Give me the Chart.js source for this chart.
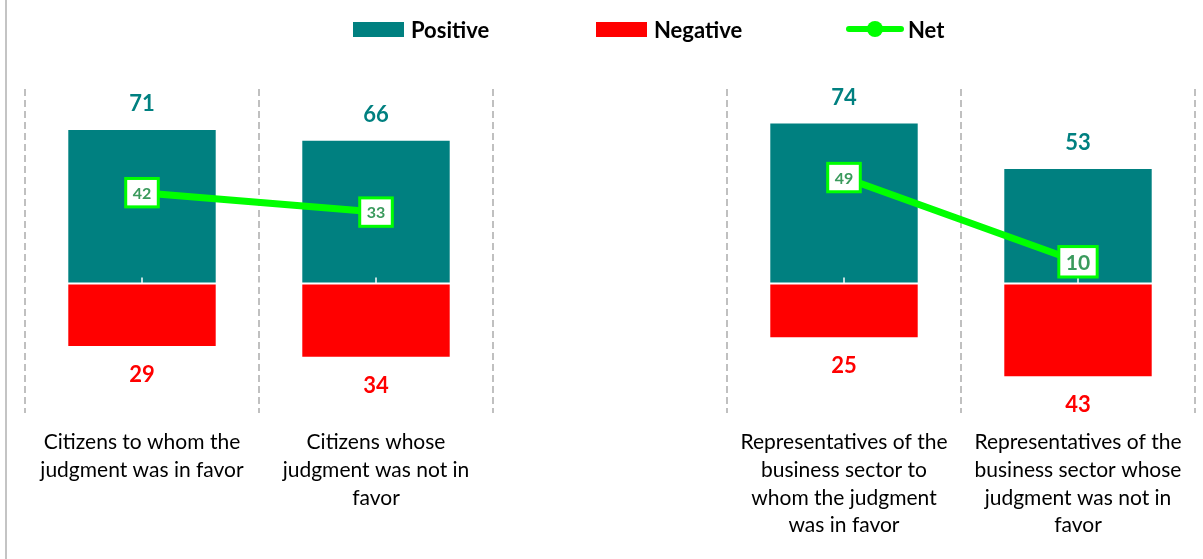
<!DOCTYPE html>
<html>
<head>
<meta charset="utf-8">
<script src="https://cdn.jsdelivr.net/npm/chart.js@4.4.0/dist/chart.umd.min.js"></script>
<style>
  html, body { margin: 0; padding: 0; background: #fff; }
  #wrap { position: relative; width: 1203px; height: 559px; overflow: hidden; }
  #wrap::before { content: ""; position: absolute; left: 5px; top: 0; bottom: 0; width: 2px; background: #c4c4c4; }
  canvas { position: absolute; left: 0; top: 0; }
  .item { position: absolute; top: 16px; height: 26px; display: flex; align-items: center;
          font: bold 22px Lato, sans-serif; color: #000; }
  .box { width: 51px; height: 15px; margin-right: 7px; }
  .netkey { position: relative; width: 58px; height: 16px; margin-right: 4px; }
  .netkey .ln { position: absolute; left: 0; right: 0; top: 5px; height: 6px; background: #00ff00; border-radius: 3px; }
  .netkey .dot { position: absolute; left: 21px; top: 0; width: 16px; height: 16px; border-radius: 50%; background: #00ff00; }
</style>
</head>
<body>
<div id="wrap">
  <canvas id="chart" width="1203" height="559"></canvas>
  <div class="item" style="left:353px"><span class="box" style="background:#008080"></span>Positive</div>
  <div class="item" style="left:596px"><span class="box" style="background:#ff0000"></span>Negative</div>
  <div class="item" style="left:846px"><span class="netkey"><span class="ln"></span><span class="dot"></span></span>Net</div>
</div>
<script>
// Datos del gráfico (la categoría vacía separa los dos grupos)
const categories = [
  ["Citizens to whom the", "judgment was in favor"],
  ["Citizens whose", "judgment was not in", "favor"],
  "",
  ["Representatives of the", "business sector to", "whom the judgment", "was in favor"],
  ["Representatives of the", "business sector whose", "judgment was not in", "favor"]
];
const positive = [71, 66, null, 74, 53];
const negative = [-29, -34, null, -25, -43];
const net = [42, 33, null, 49, 10];

const COLORS = {
  positive: "#008080",
  negative: "#ff0000",
  net: "#00ff00",
  netText: "#3a9a5c",
  grid: "#c0c0c0"
};

// Línea blanca en cero, etiquetas de valores y cajas del neto
const valueLabels = {
  id: "valueLabels",
  beforeDatasetDraw(chart, args) {
    if (args.index !== 2) return;
    const { ctx, chartArea, scales } = chart;
    const y0 = scales.y.getPixelForValue(0);
    ctx.save();
    ctx.strokeStyle = "#ffffff";
    ctx.lineWidth = 2;
    ctx.beginPath();
    ctx.moveTo(chartArea.left, y0);
    ctx.lineTo(chartArea.right, y0);
    ctx.stroke();
    ctx.lineWidth = 1.5;
    positive.forEach((v, i) => {
      if (v == null) return;
      const x = scales.x.getPixelForValue(i);
      ctx.beginPath();
      ctx.moveTo(x, y0 - 6);
      ctx.lineTo(x, y0);
      ctx.stroke();
    });
    ctx.restore();
  },
  afterDatasetsDraw(chart, args, opts) {
    const { ctx } = chart;
    ctx.save();
    ctx.textAlign = "center";
    ctx.textBaseline = "middle";
    ctx.font = "bold 22px Lato, sans-serif";

    chart.getDatasetMeta(0).data.forEach((bar, i) => {
      if (positive[i] == null) return;
      ctx.fillStyle = COLORS.positive;
      ctx.fillText(positive[i], bar.x, bar.y - 26);
    });
    chart.getDatasetMeta(1).data.forEach((bar, i) => {
      if (negative[i] == null) return;
      ctx.fillStyle = COLORS.negative;
      ctx.fillText(Math.abs(negative[i]), bar.x, bar.y + 29);
    });
    chart.getDatasetMeta(2).data.forEach((pt, i) => {
      if (net[i] == null) return;
      const fs = opts.netFontSizes[i];
      ctx.font = "bold " + fs + "px Lato, sans-serif";
      const tw = ctx.measureText(String(net[i])).width;
      const w = tw + 14;
      const h = 0.4 * fs + 22;
      ctx.fillStyle = "#ffffff";
      ctx.strokeStyle = COLORS.net;
      ctx.lineWidth = 3;
      ctx.fillRect(pt.x - w / 2, pt.y - h / 2, w, h);
      ctx.strokeRect(pt.x - w / 2, pt.y - h / 2, w, h);
      ctx.fillStyle = COLORS.netText;
      ctx.fillText(net[i], pt.x, pt.y + 1);
    });
    ctx.restore();
  }
};

new Chart(document.getElementById("chart"), {
  type: "bar",
  data: {
    labels: categories,
    datasets: [
      {
        label: "Positive",
        data: positive,
        backgroundColor: COLORS.positive,
        barPercentage: 0.63,
        categoryPercentage: 1,
        stack: "bars",
        order: 1
      },
      {
        label: "Negative",
        data: negative,
        backgroundColor: COLORS.negative,
        barPercentage: 0.63,
        categoryPercentage: 1,
        stack: "bars",
        order: 1
      },
      {
        type: "line",
        label: "Net",
        data: net,
        borderColor: COLORS.net,
        borderWidth: 7,
        pointRadius: 0,
        spanGaps: false,
        stack: "net",
        order: 0
      }
    ]
  },
  plugins: [valueLabels],
  options: {
    responsive: false,
    animation: false,
    layout: { padding: { top: 89, left: 25, right: 8, bottom: 4 } },
    scales: {
      x: {
        stacked: true,
        grid: { color: COLORS.grid, lineWidth: 2, drawTicks: false, offset: true },
        border: { display: false, dash: [7, 4] },
        ticks: {
          color: "#000",
          font: { family: "Lato, sans-serif", size: 21, lineHeight: 1.31 },
          padding: 16,
          autoSkip: false,
          maxRotation: 0,
          minRotation: 0
        }
      },
      y: {
        display: false,
        stacked: true,
        min: -60,
        max: 90
      }
    },
    plugins: {
      legend: { display: false },
      tooltip: { enabled: false },
      valueLabels: { netFontSizes: [16, 16, 16, 16, 21] }
    }
  }
});
</script>
</body>
</html>
